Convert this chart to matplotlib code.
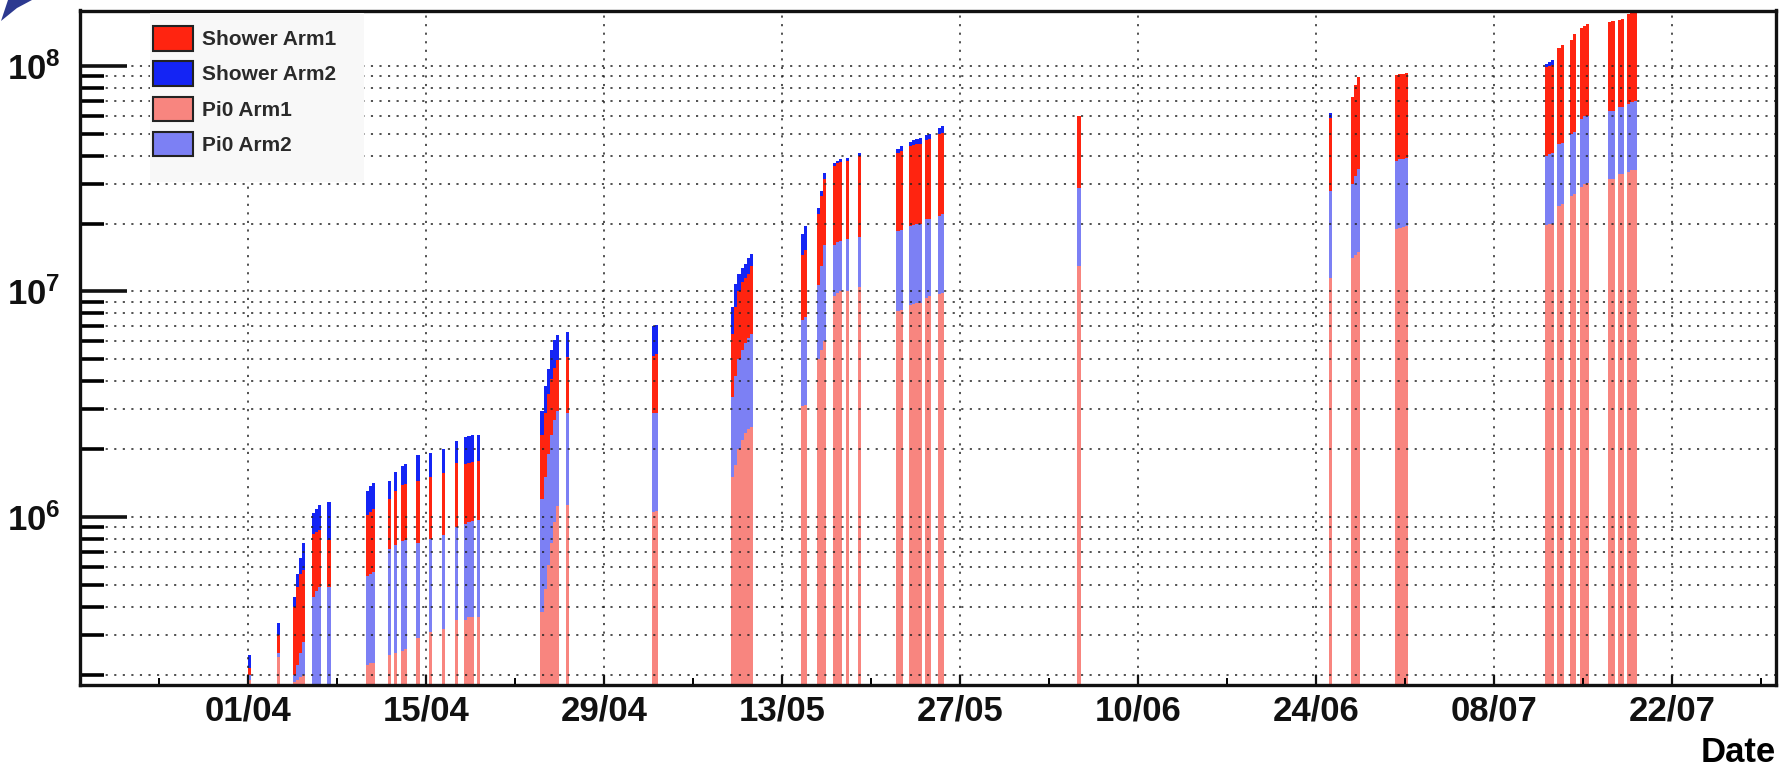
import numpy as np
import matplotlib
matplotlib.use("Agg")
import matplotlib.pyplot as plt
import matplotlib.dates as mdates
from matplotlib.patches import Patch, Polygon, Rectangle
from matplotlib.ticker import LogLocator, NullFormatter

plt.rcParams["font.family"] = ["Liberation Sans", "DejaVu Sans"]
plt.rcParams["mathtext.fontset"] = "custom"
plt.rcParams["mathtext.rm"] = "Liberation Sans:bold"
plt.rcParams["mathtext.it"] = "Liberation Sans:bold"
plt.rcParams["mathtext.bf"] = "Liberation Sans:bold"

# ---------------------------------------------------------------------------
# Cumulative event counts per time bin (bin centre in days after 1 April 2010)
# ---------------------------------------------------------------------------
YEAR = 2010
START = np.datetime64("2010-04-01T00:00")
BIN_DAYS = 0.25

run_day = [
    0.125, 2.375,
    3.625, 3.875, 4.125, 4.375,
    5.125, 5.375, 5.625, 6.375,
    9.375, 9.625, 9.875,
    11.125, 11.625, 12.125, 12.375,
    13.375, 14.375, 15.375, 16.375,
    17.125, 17.375, 17.625, 18.125,
    23.125, 23.375, 23.625, 23.875, 24.125, 24.375, 25.125,
    31.875, 32.125,
    38.125, 38.375, 38.625, 38.875, 39.125, 39.375, 39.625,
    43.625, 43.875,
    44.875, 45.125, 45.375,
    46.125, 46.375, 46.625, 47.125, 48.125,
    51.125, 51.375,
    52.125, 52.375, 52.625, 52.875,
    53.375, 53.625, 54.375, 54.625,
    65.375,
    85.125,
    86.875, 87.125, 87.375,
    90.375, 90.625, 90.875, 91.125,
    102.125, 102.375, 102.625,
    103.125, 103.375,
    104.125, 104.375,
    104.875, 105.125, 105.375,
    107.125, 107.375,
    107.875, 108.125,
    108.625, 108.875, 109.125,
]

pi0_arm1 = [
    1.9e5, 2.4e5,
    1.85e5, 1.9e5, 1.95e5, 2.0e5,
    1.75e5, 1.75e5, 1.75e5, 1.75e5,
    2.2e5, 2.25e5, 2.25e5,
    2.45e5, 2.5e5, 2.55e5, 2.6e5,
    2.9e5, 3.1e5, 3.2e5, 3.5e5,
    3.5e5, 3.6e5, 3.6e5, 3.6e5,
    3.8e5, 4.8e5, 6.1e5, 7.7e5, 9.5e5, 1.12e6, 1.13e6,
    1.05e6, 1.06e6,
    1.5e6, 1.7e6, 2.0e6, 2.2e6, 2.35e6, 2.45e6, 2.5e6,
    3.1e6, 3.15e6,
    5.0e6, 5.5e6, 6.0e6,
    9.5e6, 9.8e6, 1.0e7, 1.0e7, 1.05e7,
    8.2e6, 8.3e6,
    8.7e6, 8.8e6, 8.9e6, 8.9e6,
    9.4e6, 9.5e6, 9.7e6, 9.8e6,
    1.3e7,
    1.15e7,
    1.4e7, 1.45e7, 1.5e7,
    1.9e7, 1.92e7, 1.93e7, 1.95e7,
    1.97e7, 1.99e7, 2.0e7,
    2.4e7, 2.45e7,
    2.65e7, 2.7e7,
    2.9e7, 3.0e7, 3.01e7,
    3.15e7, 3.15e7,
    3.3e7, 3.3e7,
    3.4e7, 3.45e7, 3.45e7,
]

pi0_arm2 = [
    2.0e5, 2.5e5,
    2.0e5, 2.2e5, 2.5e5, 2.8e5,
    4.4e5, 4.7e5, 4.9e5, 4.9e5,
    5.5e5, 5.6e5, 5.7e5,
    7.2e5, 7.5e5, 7.8e5, 7.9e5,
    7.7e5, 8.0e5, 8.3e5, 9.0e5,
    9.3e5, 9.5e5, 9.6e5, 9.7e5,
    1.2e6, 1.5e6, 1.9e6, 2.3e6, 2.7e6, 2.95e6, 2.9e6,
    2.9e6, 2.9e6,
    3.4e6, 4.2e6, 5.0e6, 5.5e6, 5.9e6, 6.2e6, 6.5e6,
    7.5e6, 7.7e6,
    1.07e7, 1.3e7, 1.6e7,
    1.6e7, 1.65e7, 1.67e7, 1.7e7, 1.75e7,
    1.85e7, 1.87e7,
    1.95e7, 1.97e7, 2.0e7, 2.0e7,
    2.1e7, 2.1e7, 2.15e7, 2.2e7,
    2.88e7,
    2.8e7,
    3.0e7, 3.25e7, 3.5e7,
    3.8e7, 3.85e7, 3.85e7, 3.9e7,
    4.0e7, 4.06e7, 4.1e7,
    4.5e7, 4.56e7,
    5.0e7, 5.1e7,
    5.8e7, 6.0e7, 6.0e7,
    6.3e7, 6.3e7,
    6.6e7, 6.6e7,
    6.8e7, 6.9e7, 7.0e7,
]

shower_arm1 = [
    2.15e5, 3.0e5,
    4.0e5, 4.9e5, 5.6e5, 5.8e5,
    8.4e5, 8.6e5, 8.8e5, 7.9e5,
    1.02e6, 1.05e6, 1.08e6,
    1.2e6, 1.3e6, 1.38e6, 1.4e6,
    1.45e6, 1.5e6, 1.56e6, 1.73e6,
    1.72e6, 1.74e6, 1.76e6, 1.77e6,
    2.3e6, 2.9e6, 3.5e6, 4.1e6, 4.6e6, 4.95e6, 5.1e6,
    5.2e6, 5.3e6,
    6.5e6, 8.5e6, 1.0e7, 1.1e7, 1.15e7, 1.2e7, 1.3e7,
    1.45e7, 1.52e7,
    2.2e7, 2.65e7, 3.15e7,
    3.6e7, 3.7e7, 3.75e7, 3.8e7, 4.0e7,
    4.1e7, 4.2e7,
    4.4e7, 4.45e7, 4.5e7, 4.5e7,
    4.7e7, 4.75e7, 5.0e7, 5.05e7,
    6.0e7,
    5.9e7,
    7.3e7, 8.2e7, 8.95e7,
    9.1e7, 9.2e7, 9.2e7, 9.3e7,
    0.99e8, 1.0e8, 1.01e8,
    1.2e8, 1.24e8,
    1.3e8, 1.38e8,
    1.47e8, 1.5e8, 1.54e8,
    1.57e8, 1.58e8,
    1.6e8, 1.62e8,
    1.7e8, 1.8e8, 1.9e8,
]

shower_arm2 = [
    2.45e5, 3.4e5,
    4.4e5, 5.6e5, 6.6e5, 7.7e5,
    1.04e6, 1.09e6, 1.13e6, 1.17e6,
    1.30e6, 1.37e6, 1.42e6,
    1.45e6, 1.58e6, 1.68e6, 1.72e6,
    1.88e6, 1.92e6, 2.0e6, 2.18e6,
    2.26e6, 2.28e6, 2.3e6, 2.3e6,
    2.95e6, 3.8e6, 4.55e6, 5.5e6, 6.1e6, 6.4e6, 6.6e6,
    7.0e6, 7.1e6,
    8.5e6, 1.08e7, 1.2e7, 1.27e7, 1.33e7, 1.4e7, 1.46e7,
    1.8e7, 1.95e7,
    2.35e7, 2.8e7, 3.35e7,
    3.7e7, 3.8e7, 3.85e7, 3.9e7, 4.1e7,
    4.3e7, 4.4e7,
    4.6e7, 4.7e7, 4.75e7, 4.8e7,
    4.95e7, 5.0e7, 5.3e7, 5.4e7,
    5.9e7,
    6.2e7,
    7.1e7, 8.0e7, 8.8e7,
    9.0e7, 9.0e7, 9.1e7, 9.1e7,
    1.02e8, 1.04e8, 1.06e8,
    1.18e8, 1.22e8,
    1.28e8, 1.36e8,
    1.45e8, 1.48e8, 1.52e8,
    1.55e8, 1.56e8,
    1.58e8, 1.6e8,
    1.68e8, 1.78e8, 1.88e8,
]

date_labels = ["01/04", "15/04", "29/04", "13/05", "27/05",
               "10/06", "24/06", "08/07", "22/07"]
decades = [1e6, 1e7, 1e8]
decade_labels = [r"$10^{6}$", r"$10^{7}$", r"$10^{8}$"]
series_names = ["Shower Arm1", "Shower Arm2", "Pi0 Arm1", "Pi0 Arm2"]

# ---------------------------------------------------------------------------
COL_SH1 = "#ff2410"
COL_SH2 = "#1424f4"
COL_PI1 = "#f8857f"
COL_PI2 = "#7c80f4"

W, H = 1787, 775
fig = plt.figure(figsize=(W / 100, H / 100), dpi=100)
ax = fig.add_axes([80 / W, 90 / H, 1696 / W, 674.5 / H])

t0 = mdates.date2num(START)
x = t0 + np.asarray(run_day)

# overlaid histograms: largest drawn first, smaller ones on top
layers = [(shower_arm2, COL_SH2), (shower_arm1, COL_SH1),
          (pi0_arm2, COL_PI2), (pi0_arm1, COL_PI1)]
for vals, col in layers:
    ax.bar(x, vals, width=BIN_DAYS, color=col, linewidth=0,
           align="center", zorder=1, log=True)

ax.set_yscale("log")
ax.set_ylim(1.8e5, 1.76e8)
ax.set_xlim(mdates.date2num(np.datetime64("2010-03-18T18:43")),
            mdates.date2num(np.datetime64("2010-07-30T04:48")))

# x axis: labelled every two weeks, minor ticks in between
major_dates = [np.datetime64(f"{YEAR}-{lab[3:5]}-{lab[0:2]}") for lab in date_labels]
major_x = mdates.date2num(np.array(major_dates, dtype="datetime64[m]"))
minor_x = np.concatenate([major_x - 7, [major_x[-1] + 7]])
ax.set_xticks(major_x, date_labels, fontsize=25, fontweight="bold")
ax.set_xticks(minor_x, minor=True)

# y axis: decades labelled, full log grid
ax.set_yticks(decades, decade_labels, fontsize=25)
ax.yaxis.set_minor_locator(LogLocator(base=10, subs=np.arange(2, 10)))
ax.yaxis.set_minor_formatter(NullFormatter())

ax.tick_params(axis="x", which="major", direction="in", length=7, width=1.6,
               pad=7, colors="#111111")
ax.tick_params(axis="x", which="minor", direction="in", length=5, width=1.4)
ax.tick_params(axis="y", which="major", direction="in", length=34, width=2.6,
               pad=14, colors="#111111")
ax.tick_params(axis="y", which="minor", direction="in", length=17, width=2.6)
ax.tick_params(top=False, right=False, which="both")

grid_style = dict(color="#222222", linestyle=(0, (1.4, 4.2)), linewidth=1.1)
ax.set_axisbelow(False)
ax.grid(True, axis="x", which="major", **grid_style)
ax.grid(True, axis="y", which="both", **grid_style)

for sp in ax.spines.values():
    sp.set_linewidth(2.4)
    sp.set_color("#111111")
    sp.set_zorder(4)

ax.set_xlabel("Date", loc="right", fontsize=25, fontweight="bold")
ax.xaxis.set_label_coords(1.0, -0.076)

# legend panel: opaque light box hiding the grid behind the entries
panel = Rectangle((150 / W, 1 - 182 / H), (364 - 150) / W, (182 - 13) / H,
                  transform=fig.transFigure, facecolor="#f8f8f8",
                  edgecolor="none", zorder=4.5)
ax.add_artist(panel)

handles = [Patch(facecolor=c, edgecolor="#222222", linewidth=1.5)
           for c in (COL_SH1, COL_SH2, COL_PI1, COL_PI2)]
leg = ax.legend(handles, series_names, loc="upper left",
                bbox_to_anchor=(0.0394, 0.9862), borderaxespad=0,
                borderpad=0.3, fontsize=15, handlelength=1.92,
                handleheight=1.44, labelspacing=0.51, handletextpad=0.43,
                frameon=False)
leg.set_zorder(5)
for t in leg.get_texts():
    t.set_fontweight("bold")
    t.set_color("#2a2a2a")

# slide marker in the upper-left corner
marker_px = [(1, 21), (8, 0), (32, 0), (17, 8)]
fig.add_artist(Polygon([(px / W, 1 - py / H) for px, py in marker_px],
                       closed=True, transform=fig.transFigure,
                       facecolor="#2c3990", edgecolor="none"))

fig.savefig("out.png", dpi=100)
